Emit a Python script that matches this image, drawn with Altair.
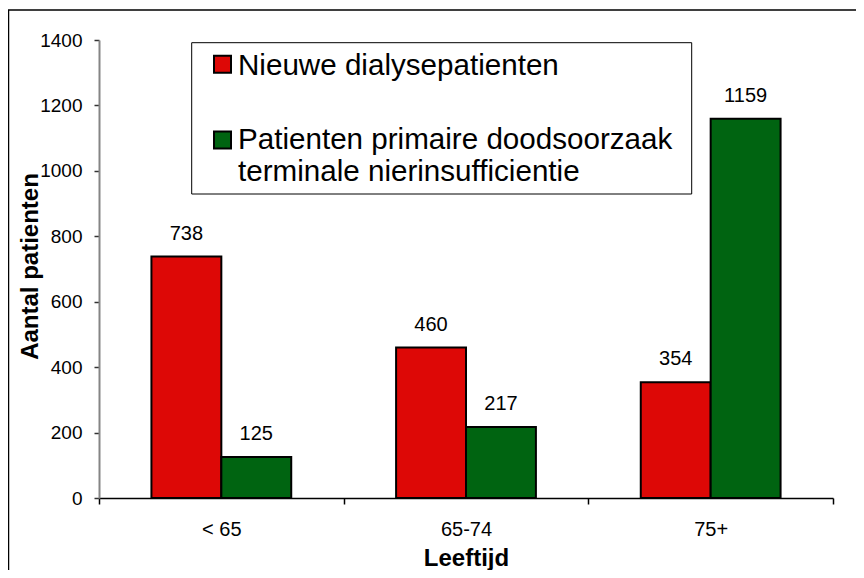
import altair as alt
import pandas as pd

# ---- data ----
age_groups = ["< 65", "65-74", "75+"]
series = ["Nieuwe dialysepatienten",
          "Patienten primaire doodsoorzaak terminale nierinsufficientie"]
new_dialysis = [738, 460, 354]
deaths_esrd = [125, 217, 1159]
colors = ["#DD0806", "#006411"]
legend_texts = ["Nieuwe dialysepatienten",
                "Patienten primaire doodsoorzaak\nterminale nierinsufficientie"]
y_ticks = [0, 200, 400, 600, 800, 1000, 1200, 1400]

FONT = "Liberation Sans"

df = pd.DataFrame({
    "age": age_groups * 2,
    "series": [series[0]] * 3 + [series[1]] * 3,
    "value": new_dialysis + deaths_esrd,
})
one = pd.DataFrame({"k": [0]})

x_enc = alt.X(
    "age:N", sort=age_groups,
    scale=alt.Scale(paddingInner=0, paddingOuter=0),
    axis=alt.Axis(
        title="Leeftijd", titleFontSize=24, titleFontWeight="bold", titleColor="black",
        titleFont=FONT, titleY=67, titleBaseline="alphabetic",
        labelAngle=0, labelFontSize=20, labelColor="black", labelFont=FONT,
        labelPadding=15, tickBand="extent", tickSize=6, tickColor="black",
        domainColor="black", domainWidth=1.5, tickWidth=1.5, grid=False,
    ),
)
xo_enc = alt.XOffset("series:N", sort=series,
                     scale=alt.Scale(paddingInner=0, paddingOuter=0.75))
y_enc = alt.Y(
    "value:Q",
    scale=alt.Scale(domain=[0, 1400], nice=False),
    axis=alt.Axis(
        values=y_ticks, format="d", title="Aantal patienten", titleFontSize=24,
        titleFontWeight="bold", titleColor="black", titleFont=FONT,
        titleX=-62, titleY=226, titleBaseline="alphabetic", titleAlign="center",
        labelFontSize=19, labelColor="black", labelFont=FONT, labelPadding=12,
        tickSize=5, tickColor="#333333", tickWidth=1.5,
        domainColor="#858585", domainWidth=2, grid=False,
    ),
)
color_enc = alt.Color("series:N", scale=alt.Scale(domain=series, range=colors), legend=None)

base = alt.Chart(df)
bars = base.mark_bar(stroke="black", strokeWidth=2).encode(
    x=x_enc, xOffset=xo_enc, y=y_enc, color=color_enc)
labels = base.mark_text(baseline="alphabetic", dy=-17, fontSize=20, color="black",
                        font=FONT).encode(
    x=x_enc, xOffset=xo_enc, y=y_enc, text="value:Q")

border = alt.Chart(one).mark_rect(filled=False, stroke="black", strokeWidth=1.5).encode(
    x=alt.value(-90.5), x2=alt.value(800), y=alt.value(-30), y2=alt.value(700))

legend_box = alt.Chart(one).mark_rect(fill="white", stroke="black", strokeWidth=1).encode(
    x=alt.value(92.7), x2=alt.value(592.7), y=alt.value(2.7), y2=alt.value(154))

sq1 = alt.Chart(one).mark_square(size=289, filled=True, stroke="black", strokeWidth=2,
                                 opacity=1).encode(
    x=alt.value(123.5), y=alt.value(24.2), fill=alt.value(colors[0]))
sq2 = alt.Chart(one).mark_square(size=289, filled=True, stroke="black", strokeWidth=2,
                                 opacity=1).encode(
    x=alt.value(123.5), y=alt.value(100), fill=alt.value(colors[1]))

t1 = alt.Chart(one).mark_text(align="left", baseline="alphabetic", fontSize=29.6,
                              font=FONT, color="black").encode(
    x=alt.value(139), y=alt.value(35), text=alt.value(legend_texts[0]))
t2 = alt.Chart(one).mark_text(align="left", baseline="alphabetic", fontSize=29.6,
                              font=FONT, color="black", lineBreak="\n",
                              lineHeight=31.3).encode(
    x=alt.value(139), y=alt.value(109.3), text=alt.value(legend_texts[1]))

chart = alt.layer(border, bars, labels, legend_box, sq1, sq2, t1, t2).properties(
    width=734, height=458,
    autosize=alt.AutoSizeParams(type="none"),
    padding={"left": 91, "top": 32, "right": 23, "bottom": 72},
).configure(font=FONT).configure_view(stroke=None)

chart.save("out.html", embed_options={"renderer": "svg", "actions": False})
